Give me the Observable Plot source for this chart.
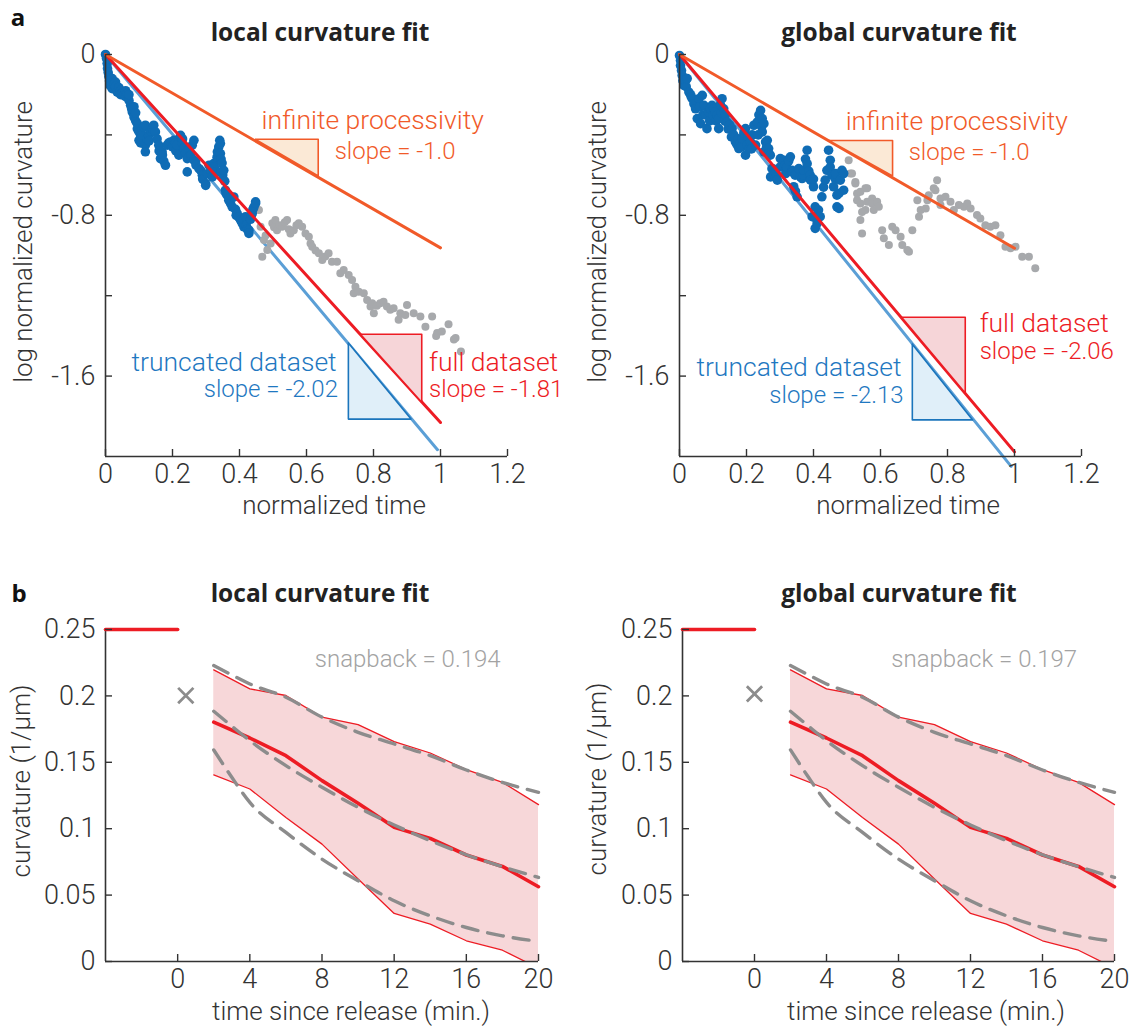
<!DOCTYPE html>
<html><head><meta charset="utf-8">
<script src="https://cdn.jsdelivr.net/npm/d3@7"></script>
<script src="https://cdn.jsdelivr.net/npm/@observablehq/plot@0.6"></script>
<style>
body{margin:0;background:#fff;}
#page{position:relative;width:1135px;height:1028px;font-family:Roboto,"Open Sans",sans-serif;color:#333;overflow:hidden;}
.panel{position:absolute;}
.t{position:absolute;white-space:nowrap;transform:translate(-50%,-50%);line-height:1;}
.title{font-family:"Open Sans",sans-serif;font-weight:700;font-size:24.5px;color:#222;}
.lab{font-size:26px;font-weight:300;color:#333;}
.rot{transform:translate(-50%,-50%) rotate(-90deg);}
.letter{font-family:"Open Sans",sans-serif;font-weight:700;font-size:24px;color:#111;}
</style></head><body><div id="page"></div>
<script>
// ---------- panel a data: [normalized time, log normalized curvature] ----------
const localTruncated = [[0,0],[0.003,-0.02],[0.005,-0.045],[0.006,-0.07],[0.008,-0.09],[0.01,-0.11],[0.012,-0.13],[0.014,-0.155],[0.02,-0.17],[0.02,-0.12],[0.025,-0.15],[0.03,-0.137],[0.03,-0.16],[0.035,-0.187],[0.04,-0.165],[0.045,-0.179],[0.045,-0.2],[0.05,-0.19],[0.055,-0.203],[0.06,-0.21],[0.06,-0.18],[0.065,-0.195],[0.07,-0.228],[0.07,-0.2],[0.075,-0.253],[0.078,-0.27],[0.08,-0.286],[0.085,-0.311],[0.085,-0.26],[0.09,-0.33],[0.09,-0.29],[0.095,-0.344],[0.095,-0.37],[0.1,-0.385],[0.1,-0.427],[0.105,-0.405],[0.105,-0.44],[0.109,-0.369],[0.11,-0.4],[0.114,-0.36],[0.119,-0.352],[0.119,-0.451],[0.119,-0.484],[0.124,-0.42],[0.129,-0.402],[0.13,-0.43],[0.135,-0.38],[0.14,-0.37],[0.144,-0.352],[0.149,-0.385],[0.154,-0.42],[0.159,-0.451],[0.16,-0.48],[0.164,-0.518],[0.169,-0.484],[0.17,-0.5],[0.174,-0.53],[0.179,-0.551],[0.184,-0.451],[0.189,-0.44],[0.194,-0.435],[0.2,-0.46],[0.204,-0.427],[0.209,-0.44],[0.21,-0.48],[0.214,-0.451],[0.219,-0.501],[0.224,-0.402],[0.229,-0.44],[0.23,-0.42],[0.234,-0.468],[0.239,-0.49],[0.244,-0.518],[0.244,-0.584],[0.25,-0.47],[0.255,-0.5],[0.259,-0.451],[0.264,-0.427],[0.264,-0.526],[0.269,-0.534],[0.27,-0.55],[0.279,-0.568],[0.284,-0.576],[0.289,-0.601],[0.29,-0.62],[0.299,-0.642],[0.299,-0.651],[0.304,-0.593],[0.309,-0.551],[0.315,-0.58],[0.319,-0.609],[0.323,-0.543],[0.325,-0.56],[0.329,-0.584],[0.333,-0.511],[0.334,-0.484],[0.338,-0.46],[0.341,-0.427],[0.343,-0.443],[0.343,-0.493],[0.344,-0.584],[0.345,-0.52],[0.348,-0.54],[0.35,-0.6],[0.353,-0.576],[0.356,-0.63],[0.358,-0.675],[0.36,-0.69],[0.363,-0.7],[0.368,-0.725],[0.37,-0.715],[0.373,-0.74],[0.378,-0.758],[0.383,-0.709],[0.388,-0.77],[0.39,-0.8],[0.393,-0.791],[0.398,-0.81],[0.403,-0.824],[0.408,-0.84],[0.41,-0.83],[0.413,-0.857],[0.418,-0.807],[0.42,-0.85],[0.423,-0.87],[0.428,-0.874],[0.428,-0.89],[0.433,-0.82],[0.435,-0.8],[0.438,-0.791],[0.44,-0.77],[0.443,-0.76],[0.448,-0.733],[0.448,-0.741]];
const localRest = [[0.458,-0.774],[0.463,-0.857],[0.468,-1.006],[0.473,-0.923],[0.478,-0.9],[0.483,-0.973],[0.493,-0.94],[0.498,-0.84],[0.503,-0.86],[0.507,-0.824],[0.512,-0.874],[0.52,-0.85],[0.527,-0.857],[0.535,-0.835],[0.542,-0.824],[0.547,-0.87],[0.552,-0.89],[0.562,-0.874],[0.57,-0.85],[0.577,-0.84],[0.587,-0.857],[0.597,-0.89],[0.607,-0.907],[0.612,-0.94],[0.617,-0.956],[0.627,-0.975],[0.637,-0.989],[0.647,-1.022],[0.656,-1.005],[0.666,-0.989],[0.676,-1.031],[0.691,-1.031],[0.701,-1.088],[0.711,-1.072],[0.726,-1.097],[0.736,-1.122],[0.741,-1.188],[0.746,-1.155],[0.756,-1.18],[0.771,-1.188],[0.781,-1.221],[0.791,-1.254],[0.796,-1.238],[0.801,-1.287],[0.81,-1.25],[0.82,-1.238],[0.83,-1.23],[0.84,-1.254],[0.85,-1.27],[0.86,-1.263],[0.875,-1.32],[0.88,-1.287],[0.895,-1.296],[0.9,-1.246],[0.92,-1.287],[0.94,-1.304],[0.955,-1.354],[0.975,-1.304],[0.987,-1.4],[0.99,-1.386],[1.004,-1.378],[1.024,-1.342],[1.04,-1.418],[1.045,-1.411],[1.061,-1.477]];
const globalTruncated = [[0,-0.005],[0.003,-0.03],[0.003,-0.055],[0.006,-0.08],[0.008,-0.104],[0.01,-0.13],[0.013,-0.154],[0.018,-0.13],[0.02,-0.16],[0.023,-0.12],[0.028,-0.187],[0.033,-0.2],[0.035,-0.21],[0.038,-0.22],[0.043,-0.245],[0.048,-0.27],[0.053,-0.319],[0.058,-0.22],[0.06,-0.26],[0.063,-0.344],[0.068,-0.203],[0.07,-0.3],[0.073,-0.253],[0.078,-0.3],[0.082,-0.369],[0.087,-0.286],[0.09,-0.33],[0.092,-0.27],[0.097,-0.253],[0.1,-0.3],[0.102,-0.27],[0.107,-0.286],[0.11,-0.33],[0.112,-0.3],[0.117,-0.319],[0.117,-0.369],[0.122,-0.25],[0.125,-0.29],[0.127,-0.22],[0.132,-0.27],[0.135,-0.33],[0.137,-0.3],[0.142,-0.336],[0.145,-0.37],[0.15,-0.35],[0.155,-0.41],[0.157,-0.369],[0.162,-0.4],[0.167,-0.435],[0.172,-0.45],[0.175,-0.42],[0.177,-0.468],[0.182,-0.44],[0.185,-0.46],[0.187,-0.419],[0.192,-0.39],[0.197,-0.369],[0.197,-0.501],[0.202,-0.451],[0.205,-0.41],[0.207,-0.47],[0.212,-0.435],[0.215,-0.47],[0.217,-0.4],[0.222,-0.352],[0.227,-0.451],[0.232,-0.336],[0.235,-0.4],[0.237,-0.3],[0.242,-0.278],[0.245,-0.36],[0.247,-0.319],[0.247,-0.385],[0.252,-0.344],[0.252,-0.484],[0.257,-0.435],[0.26,-0.46],[0.262,-0.427],[0.266,-0.468],[0.267,-0.493],[0.271,-0.501],[0.272,-0.609],[0.276,-0.568],[0.28,-0.57],[0.282,-0.6],[0.29,-0.6],[0.292,-0.625],[0.3,-0.56],[0.301,-0.518],[0.307,-0.55],[0.312,-0.526],[0.316,-0.551],[0.317,-0.592],[0.32,-0.56],[0.326,-0.53],[0.331,-0.509],[0.336,-0.576],[0.336,-0.584],[0.341,-0.658],[0.345,-0.6],[0.346,-0.68],[0.351,-0.708],[0.356,-0.568],[0.361,-0.609],[0.366,-0.617],[0.37,-0.6],[0.371,-0.576],[0.376,-0.52],[0.381,-0.476],[0.381,-0.543],[0.386,-0.58],[0.39,-0.6],[0.391,-0.625],[0.396,-0.807],[0.4,-0.658],[0.4,-0.62],[0.405,-0.758],[0.405,-0.865],[0.41,-0.8],[0.411,-0.84],[0.415,-0.774],[0.42,-0.807],[0.425,-0.708],[0.43,-0.66],[0.435,-0.625],[0.44,-0.576],[0.445,-0.476],[0.45,-0.526],[0.45,-0.56],[0.455,-0.6],[0.46,-0.658],[0.465,-0.62],[0.466,-0.592],[0.47,-0.758],[0.47,-0.7],[0.476,-0.691],[0.476,-0.766],[0.48,-0.625],[0.485,-0.576],[0.49,-0.675],[0.49,-0.592]];
const globalRest = [[0.505,-0.526],[0.51,-0.592],[0.515,-0.592],[0.525,-0.634],[0.525,-0.642],[0.53,-0.692],[0.53,-0.725],[0.54,-0.683],[0.54,-0.741],[0.54,-0.824],[0.545,-0.783],[0.545,-0.89],[0.555,-0.666],[0.555,-0.774],[0.56,-0.733],[0.56,-0.666],[0.575,-0.716],[0.575,-0.741],[0.58,-0.774],[0.59,-0.733],[0.595,-0.758],[0.605,-0.874],[0.61,-0.914],[0.625,-0.948],[0.635,-0.857],[0.645,-0.874],[0.66,-0.907],[0.665,-0.948],[0.68,-0.973],[0.685,-0.981],[0.695,-0.874],[0.71,-0.725],[0.715,-0.807],[0.72,-0.774],[0.735,-0.766],[0.74,-0.725],[0.744,-0.7],[0.759,-0.666],[0.764,-0.675],[0.769,-0.626],[0.779,-0.716],[0.779,-0.749],[0.794,-0.708],[0.809,-0.733],[0.819,-0.774],[0.834,-0.749],[0.849,-0.758],[0.859,-0.741],[0.869,-0.766],[0.888,-0.799],[0.898,-0.816],[0.913,-0.849],[0.928,-0.857],[0.943,-0.849],[0.958,-0.899],[0.973,-0.956],[0.988,-0.964],[1.003,-0.956],[1.023,-1.006],[1.043,-1.006],[1.062,-1.063]];

// fit lines (start, end) and slope triangles
const localInfiniteFit = [[0,0],[1.0,-0.962]];
const localFullFit = [[0,0],[1.0,-1.831]];
const localTruncFit = [[0,0],[0.991,-1.966]];
const globalInfiniteFit = [[0,0],[1.0,-0.964]];
const globalFullFit = [[0,0],[1.0,-1.977]];
const globalTruncFit = [[0,0],[0.99,-2.049]];
const localInfiniteTri = [[0.448,-0.422],[0.635,-0.422],[0.635,-0.604]];
const localFullTri = [[0.761,-1.392],[0.944,-1.392],[0.944,-1.73]];
const localTruncTri = [[0.725,-1.435],[0.725,-1.814],[0.912,-1.814]];
const globalInfiniteTri = [[0.446,-0.428],[0.636,-0.428],[0.636,-0.604]];
const globalFullTri = [[0.663,-1.307],[0.853,-1.307],[0.853,-1.684]];
const globalTruncTri = [[0.695,-1.441],[0.695,-1.818],[0.875,-1.818]];
const slopeLocal = ["-1.0","-1.81","-2.02"];
const slopeGlobal = ["-1.0","-2.06","-2.13"];

const topXTicks = [0,0.2,0.4,0.6,0.8,1,1.2];
const topYTicks = [0,-0.4,-0.8,-1.2,-1.6];
const topYLabels = [0,-0.8,-1.6];

// ---------- panel b data: time since release (min), curvature (1/um) ----------
const releaseTime = [-4,0];
const releaseCurv = [0.25,0.25];
const timeMin = [2,4,6,8,10,12,14,16,18,20];
const meanCurv = [0.1802,0.1683,0.155,0.1362,0.1191,0.101,0.0927,0.0802,0.0716,0.0563];
const upperCurv = [0.2196,0.2053,0.2003,0.184,0.1784,0.1656,0.157,0.1445,0.1349,0.1181];
const lowerCurv = [0.1405,0.1299,0.1085,0.0884,0.0621,0.0362,0.0281,0.0156,0.0085,-0.005];
const fitTime = [2,3,4,6,8,10,12,14,16,18,20];
const fitUpper = [0.2229,0.2158,0.209,0.199,0.184,0.1726,0.1638,0.155,0.1442,0.1349,0.1274];
const fitMiddle = [0.1884,0.1772,0.1663,0.1475,0.1312,0.1161,0.1028,0.091,0.0804,0.0714,0.0633];
const fitLower = [0.1593,0.1387,0.1198,0.0972,0.0771,0.0608,0.0457,0.0344,0.0256,0.0193,0.0151];
const snapLocal = {t:0.45, k:0.2003, value:"0.194"};
const snapGlobal = {t:0.0, k:0.2015, value:"0.197"};
const botXTicks = [0,4,8,12,16,20];
const botYTicks = [0,0.05,0.1,0.15,0.2,0.25];

// ---------- styling ----------
const FONT = 'Roboto, "Open Sans", sans-serif';
const C = {blue:"#0f6cb5", gray:"#a7a9ac", fitBlue:"#5b9fd6", red:"#ed1c24", orange:"#f15a29",
  triOrange:"#fbe9d6", triRed:"#f6d5d8", triBlue:"#e0eff9", triBlueStroke:"#1b75bc", textBlue:"#1f78c1",
  band:"#f7d7d9", dash:"#8c8c8c", axis:"#333"};
const XY = {x: d=>d[0], y: d=>d[1]};
const closed = t => [...t, t[0]];

function topPanel(o) {
  const FW = 402, FH = 402;
  return Plot.plot({
    width: o.width, height: 530, marginLeft: o.ml, marginRight: o.width - o.ml - FW, marginTop: 54, marginBottom: 74,
    x: {domain: [0, 1.2]}, y: {domain: [-2, 0]},
    style: {fontFamily: FONT, fontSize: "27px", fontWeight: 300, color: "#333", background: "none", overflow: "visible"},
    marks: [
      Plot.line(o.truncFit, {...XY, stroke: C.fitBlue, strokeWidth: 3}),
      Plot.dot(o.rest, {...XY, r: 4, fill: C.gray}),
      Plot.dot(o.trunc, {...XY, r: 4.8, fill: C.blue}),
      Plot.line(o.fullFit, {...XY, stroke: C.red, strokeWidth: 3}),
      Plot.line(o.infFit, {...XY, stroke: C.orange, strokeWidth: 3}),
      Plot.line(closed(o.infTri), {...XY, fill: C.triOrange, stroke: C.orange, strokeWidth: 1.6}),
      Plot.line(closed(o.fullTri), {...XY, fill: C.triRed, stroke: C.red, strokeWidth: 1.6}),
      Plot.line(closed(o.truncTri), {...XY, fill: C.triBlue, stroke: C.triBlueStroke, strokeWidth: 1.6}),
      Plot.text(["infinite processivity"], {x: o.ann.inf[0], y: o.ann.inf[1], text: d=>d, textAnchor: "start", fill: C.orange, fontSize: 26.5}),
      Plot.text(["slope = " + o.slopes[0]], {x: o.ann.infS[0], y: o.ann.infS[1], text: d=>d, textAnchor: "start", fill: C.orange, fontSize: 24}),
      Plot.text(["full dataset"], {x: o.ann.full[0], y: o.ann.full[1], text: d=>d, textAnchor: "start", fill: C.red, fontSize: 26.5}),
      Plot.text(["slope = " + o.slopes[1]], {x: o.ann.fullS[0], y: o.ann.fullS[1], text: d=>d, textAnchor: "start", fill: C.red, fontSize: 24}),
      Plot.text(["truncated dataset"], {x: o.ann.trunc[0], y: o.ann.trunc[1], text: d=>d, textAnchor: "end", fill: C.textBlue, fontSize: 26.5}),
      Plot.text(["slope = " + o.slopes[2]], {x: o.ann.truncS[0], y: o.ann.truncS[1], text: d=>d, textAnchor: "end", fill: C.textBlue, fontSize: 24}),
      Plot.ruleX([0], {stroke: C.axis, strokeWidth: 1.6}),
      Plot.ruleY([-2], {stroke: C.axis, strokeWidth: 1.6}),
      Plot.tickX(topXTicks, {x: d=>d, insetTop: FH - 7, stroke: C.axis, strokeWidth: 1.4}),
      Plot.tickY(topYTicks, {y: d=>d, insetRight: FW - 7, stroke: C.axis, strokeWidth: 1.4}),
      Plot.axisX(topXTicks, {tickSize: 0, tickPadding: 7, label: null, tickFormat: d => String(d)}),
      Plot.axisY(topYLabels, {tickSize: 0, tickPadding: 10, label: null, tickFormat: d => String(d)})
    ]
  });
}

function bottomPanel(o) {
  const FW = o.fw, FH = 332;
  const band = timeMin.map((t, i) => ({t, lo: lowerCurv[i], hi: upperCurv[i], m: meanCurv[i]}));
  const fits = fitTime.map((t, i) => ({t, u: fitUpper[i], m: fitMiddle[i], l: fitLower[i]}));
  const pre = releaseTime.map((t, i) => ({t, k: releaseCurv[i]}));
  const dash = {stroke: C.dash, strokeWidth: 3.4, strokeDasharray: "16,10", curve: "monotone-x"};
  return Plot.plot({
    width: o.width, height: 448, marginLeft: o.ml, marginRight: o.width - o.ml - FW, marginTop: 49, marginBottom: 67,
    x: {domain: [-4, 20]}, y: {domain: [0, 0.25]},
    style: {fontFamily: FONT, fontSize: "27px", fontWeight: 300, color: "#333", background: "none", overflow: "visible"},
    marks: [
      Plot.areaY(band, {x: "t", y1: "lo", y2: "hi", fill: C.band, clip: true}),
      Plot.line(band, {x: "t", y: "hi", stroke: C.red, strokeWidth: 1.3}),
      Plot.line(band, {x: "t", y: "lo", stroke: C.red, strokeWidth: 1.3, clip: true}),
      Plot.line(band, {x: "t", y: "m", stroke: C.red, strokeWidth: 3.6}),
      Plot.line(fits, {x: "t", y: "u", ...dash}),
      Plot.line(fits, {x: "t", y: "m", ...dash}),
      Plot.line(fits, {x: "t", y: "l", ...dash}),
      Plot.ruleX([-4], {stroke: C.axis, strokeWidth: 1.6}),
      Plot.ruleY([0], {stroke: C.axis, strokeWidth: 1.6}),
      Plot.line(pre, {x: "t", y: "k", stroke: C.red, strokeWidth: 3.6}),
      Plot.dot([o.snap], {x: "t", y: "k", symbol: "times", r: 7, stroke: C.dash, strokeWidth: 2.8}),
      Plot.text([o.snap], {x: 7.6, y: 0.2272, text: d => "snapback = " + d.value, textAnchor: "start", fill: "#a3a3a3", fontSize: 24}),
      Plot.tickX(botXTicks, {x: d=>d, insetTop: FH - 7, stroke: C.axis, strokeWidth: 1.4}),
      Plot.tickY(botYTicks, {y: d=>d, insetRight: FW - 7, stroke: C.axis, strokeWidth: 1.4}),
      Plot.axisX(botXTicks, {tickSize: 0, tickPadding: 7, label: null, tickFormat: d => String(d)}),
      Plot.axisY(botYTicks, {tickSize: 0, tickPadding: 10, label: null, tickFormat: d => String(d)})
    ]
  });
}

const page = document.getElementById("page");
function place(el, left, top) { el.classList.add("panel"); el.style.left = left + "px"; el.style.top = top + "px"; page.appendChild(el); }
function txt(s, cls, x, y) { const d = document.createElement("div"); d.className = "t " + cls; d.textContent = s; d.style.left = x + "px"; d.style.top = y + "px"; page.appendChild(d); }

place(topPanel({width: 560, ml: 105, trunc: localTruncated, rest: localRest,
  truncFit: localTruncFit, fullFit: localFullFit, infFit: localInfiniteFit,
  infTri: localInfiniteTri, fullTri: localFullTri, truncTri: localTruncTri, slopes: slopeLocal,
  ann: {inf: [0.466, -0.33], infS: [0.684, -0.48], full: [0.966, -1.53], fullS: [0.966, -1.667], trunc: [0.69, -1.53], truncS: [0.694, -1.667]}}), 0, 0);
place(topPanel({width: 565, ml: 109, trunc: globalTruncated, rest: globalRest,
  truncFit: globalTruncFit, fullFit: globalFullFit, infFit: globalInfiniteFit,
  infTri: globalInfiniteTri, fullTri: globalFullTri, truncTri: globalTruncTri, slopes: slopeGlobal,
  ann: {inf: [0.496, -0.332], infS: [0.684, -0.487], full: [0.896, -1.34], fullS: [0.896, -1.478], trunc: [0.663, -1.555], truncS: [0.669, -1.696]}}), 570, 0);
place(bottomPanel({width: 560, ml: 105, fw: 433, snap: snapLocal}), 0, 580);
place(bottomPanel({width: 565, ml: 112, fw: 432, snap: snapGlobal}), 570, 580);

txt("a", "letter", 18, 17);
txt("b", "letter", 19, 593);
txt("local curvature fit", "title", 320, 32);
txt("global curvature fit", "title", 899, 32);
txt("local curvature fit", "title", 320, 593);
txt("global curvature fit", "title", 899, 593);
txt("log normalized curvature", "lab rot", 23, 242);
txt("log normalized curvature", "lab rot", 597, 242);
txt("normalized time", "lab", 334, 505);
txt("normalized time", "lab", 908, 505);
txt("curvature (1/μm)", "lab rot", 21, 781);
txt("curvature (1/μm)", "lab rot", 597, 779);
txt("time since release (min.)", "lab", 351, 1011);
txt("time since release (min.)", "lab", 926, 1011);
</script>
</body></html>
